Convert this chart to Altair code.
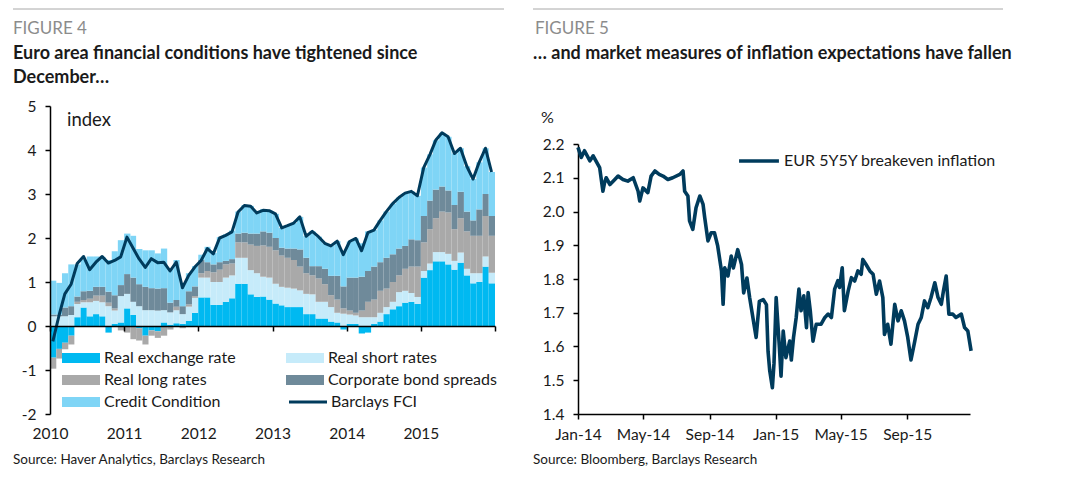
import altair as alt
import pandas as pd

FONT = "Lato"
INK = "#1a1a1a"

# ---------------- Figure 4 data (monthly, Jan 2010 - Dec 2015) ----------------
components = ["Real exchange rate", "Real short rates", "Real long rates",
              "Corporate bond spreads", "Credit Condition"]
comp_colors = ["#00B9F1", "#C6EBFA", "#A9A9A9", "#6F8A9A", "#7FD5F6"]
# legend reads row by row; Vega fills legend columns top to bottom
legend_order = ["Real exchange rate", "Real long rates", "Credit Condition",
                "Real short rates", "Corporate bond spreads"]

real_exchange_rate = [
    -0.72, -0.52, -0.38, -0.22, 0.2, 0.42, 0.22, 0.27, 0.22, -0.15,
    0.05, 0.08, 0.4, 0.25, -0.05, -0.22, -0.1, -0.12, 0.08, 0.03,
    0.06, 0.05, 0.12, 0.3, 0.65, 0.65, 0.48, 0.48, 0.55, 0.63,
    0.96, 0.96, 0.72, 0.66, 0.67, 0.6, 0.51, 0.47, 0.43, 0.43,
    0.43, 0.27, 0.27, 0.17, 0.17, 0.1, 0.08, -0.08, 0.05, 0.05,
    -0.17, -0.15, 0.05, 0.1, 0.27, 0.38, 0.45, 0.53, 0.55, 0.5,
    1.1, 1.27, 1.47, 1.47, 1.4, 1.28, 1.44, 1.15, 0.97, 1.0,
    1.35, 0.97]
real_short_rates = [
    0.22, 0.22, 0.22, 0.25, 0.3, 0.12, 0.32, 0.3, 0.32, 0.45,
    0.3, 0.6, 0.33, 0.3, 0.45, 0.36, 0.36, 0.35, 0.28, 0.28,
    0.3, 0.22, 0.32, 0.34, 0.45, 0.45, 0.52, 0.52, 0.55, 0.52,
    0.59, 0.59, 0.55, 0.54, 0.45, 0.5, 0.45, 0.42, 0.44, 0.42,
    0.38, 0.46, 0.45, 0.38, 0.38, 0.33, 0.22, 0.28, 0.21, 0.19,
    0.2, 0.2, 0.15, 0.2, 0.16, 0.17, 0.32, 0.27, 0.2, 0.16,
    0.15, 0.15, 0.21, 0.21, 0.24, 0.2, 0.23, 0.15, 0.23, 0.2,
    0.23, 0.24]
real_long_rates = [
    -0.25, -0.22, -0.15, -0.2, 0.05, 0.05, 0.08, 0.12, 0.15, 0.08,
    0.05, -0.1, -0.15, -0.3, -0.28, -0.2, -0.12, -0.15, -0.22, -0.08,
    0.08, -0.05, 0.05, 0.04, 0.1, 0.15, 0.22, 0.28, 0.3, 0.27,
    0.35, 0.35, 0.58, 0.62, 0.71, 0.7, 0.76, 0.71, 0.68, 0.65,
    0.54, 0.47, 0.43, 0.53, 0.4, 0.27, 0.3, 0.12, 0.09, 0.06,
    0.15, 0.35, 0.4, 0.5, 0.42, 0.45, 0.38, 0.5, 0.6, 0.69,
    0.65, 0.78, 0.77, 0.92, 0.94, 0.72, 0.78, 0.85, 0.85, 0.85,
    0.92, 0.84]
corporate_bond_spreads = [
    0.04, 0.04, 0.2, 0.2, 0.12, 0.2, 0.18, 0.2, 0.2, 0.25,
    0.3, 0.25, 0.45, 0.55, 0.5, 0.53, 0.5, 0.5, 0.5, 0.22,
    0.15, 0.18, 0.3, 0.22, 0.3, 0.2, 0.18, 0.17, 0.08, 0.1,
    0.2, 0.22, 0.25, 0.28, 0.32, 0.32, 0.28, 0.18, 0.21, 0.26,
    0.39, 0.35, 0.21, 0.28, 0.35, 0.44, 0.54, 0.5, 0.75, 0.8,
    0.77, 0.7, 0.75, 0.65, 0.7, 0.63, 0.61, 0.52, 0.62, 0.6,
    0.6, 0.65, 0.65, 0.57, 0.5, 0.55, 0.6, 0.45, 0.35, 0.6,
    0.5, 0.45]
credit_condition = [
    0.77, 0.72, 0.78, 0.95, 0.73, 0.71, 0.78, 0.69, 0.68, 0.72,
    1.0, 1.02, 0.92, 0.95, 0.8, 0.83, 0.86, 0.8, 0.9, 0.77,
    0.91, 0.52, 0.41, 0.46, 0.12, 0.35, 0.26, 0.57, 0.6, 0.65,
    0.5, 0.63, 0.63, 0.48, 0.51, 0.5, 0.55, 0.45, 0.52, 0.58,
    0.74, 0.49, 0.79, 0.67, 0.58, 0.68, 0.79, 0.8, 0.82, 0.89,
    0.76, 0.9, 0.83, 0.95, 1.05, 1.15, 1.16, 1.2, 1.09, 1.01,
    1.1, 1.05, 1.12, 1.22, 1.22, 1.17, 0.99, 1.03, 0.94, 1.07,
    1.04, 1.0]
barclays_fci = [
    -0.35, 0.25, 0.73, 0.95, 1.42, 1.58, 1.28, 1.45, 1.58, 1.43,
    1.49, 1.57, 2.02, 1.76, 1.53, 1.33, 1.53, 1.44, 1.45, 1.25,
    1.45, 0.87, 1.15, 1.34, 1.49, 1.76, 1.64, 2.0, 2.06, 2.14,
    2.59, 2.74, 2.72, 2.57, 2.63, 2.62, 2.55, 2.23, 2.28, 2.34,
    2.48, 2.04, 2.15, 2.03, 1.88, 1.82, 1.93, 1.62, 1.92, 1.99,
    1.71, 2.12, 2.18, 2.4, 2.6, 2.78, 2.92, 3.02, 3.06, 2.96,
    3.6, 3.9, 4.22, 4.39, 4.3, 3.92, 4.04, 3.63, 3.34, 3.72,
    4.04, 3.5]
year_ticks = [2010, 2011, 2012, 2013, 2014, 2015, 2016]

# ---------------- Figure 5 data (EUR 5Y5Y breakeven, %) ----------------
days_since_jan14 = [
    0, 6, 12, 22, 28, 40, 46, 49, 52, 59,
    68, 74, 83, 92, 102, 111, 114, 120, 129, 135,
    142, 150, 157, 166, 175, 188, 194, 197, 203, 206,
    212, 218, 225, 231, 234, 240, 246, 252, 258, 265,
    268, 271, 277, 283, 287, 295, 302, 306, 312, 317,
    323, 329, 335, 342, 348, 351, 354, 359, 362, 366,
    372, 375, 379, 384, 391, 394, 398, 403, 408, 412,
    417, 422, 425, 429, 434, 440, 449, 456, 462, 468,
    474, 480, 483, 488, 492, 499, 505, 511, 517, 523,
    526, 532, 539, 545, 551, 557, 563, 566, 572, 578,
    585, 591, 597, 603, 609, 615, 622, 628, 634, 640,
    646, 652, 659, 665, 671, 675, 680, 685, 692, 698,
    708, 714, 720, 726]
breakeven = [
    2.19, 2.16, 2.18, 2.15, 2.165, 2.13, 2.06, 2.085, 2.10, 2.08,
    2.095, 2.105, 2.095, 2.09, 2.1, 2.06, 2.031, 2.07, 2.056, 2.105,
    2.12, 2.11, 2.105, 2.095, 2.1, 2.11, 2.12, 2.06, 2.046, 1.972,
    1.947, 2.011, 2.046, 2.021, 1.982, 1.913, 1.937, 1.937, 1.898, 1.824,
    1.725, 1.833, 1.809, 1.868, 1.833, 1.887, 1.843, 1.759, 1.803, 1.745,
    1.686, 1.627, 1.734, 1.739, 1.724, 1.586, 1.53, 1.478, 1.55, 1.745,
    1.596, 1.512, 1.646, 1.567, 1.616, 1.56, 1.626, 1.686, 1.77, 1.706,
    1.75, 1.656, 1.76, 1.706, 1.616, 1.666, 1.666, 1.686, 1.696, 1.686,
    1.77, 1.795, 1.775, 1.833, 1.706, 1.765, 1.804, 1.794, 1.824, 1.814,
    1.858, 1.843, 1.824, 1.814, 1.755, 1.794, 1.745, 1.636, 1.666, 1.607,
    1.725, 1.676, 1.706, 1.676, 1.627, 1.56, 1.616, 1.666, 1.686, 1.735,
    1.715, 1.745, 1.789, 1.745, 1.725, 1.765, 1.809, 1.696, 1.696, 1.686,
    1.696, 1.656, 1.646, 1.587]
right_ticks = [(2014, 1), (2014, 5), (2014, 9), (2015, 1), (2015, 5), (2015, 9)]

# ---------------- tables ----------------
months = pd.date_range("2010-01-01", periods=72, freq="MS")
series = [real_exchange_rate, real_short_rates, real_long_rates,
          corporate_bond_spreads, credit_condition]
rows = []
for i, m in enumerate(months):
    for k, (name, vals) in enumerate(zip(components, series)):
        rows.append({"start": m, "end": m + pd.offsets.MonthBegin(1),
                     "component": name, "order": k, "value": vals[i]})
bars_df = pd.DataFrame(rows)
fci_df = pd.DataFrame({"date": months + pd.Timedelta(days=14),
                       "fci": barclays_fci, "series": "Barclays FCI"})
be_df = pd.DataFrame({"date": pd.Timestamp("2014-01-01") + pd.to_timedelta(days_since_jan14, unit="D"),
                      "value": breakeven, "series": "EUR 5Y5Y breakeven inflation"})


def text(t, x, y, size, weight="normal", color=INK):
    return alt.Chart(pd.DataFrame({"t": [t]})).mark_text(
        align="left", baseline="alphabetic", fontSize=size, fontWeight=weight,
        color=color, font=FONT).encode(x=alt.value(x), y=alt.value(y), text="t:N")


def hrule(x1, x2, y):
    return alt.Chart(pd.DataFrame({"a": [0]})).mark_rule(
        color="#A8A8A8", strokeWidth=1).encode(x=alt.value(x1), x2=alt.value(x2), y=alt.value(y))


axis_common = dict(domainColor="black", domainWidth=1.5, tickColor="black", tickWidth=1.5,
                   tickSize=5, labelFont=FONT, labelFontSize=15.5, labelColor=INK,
                   grid=False, title=None, labelOverlap=False, labelFlush=False)
legend_common = dict(orient="none", title=None, labelFont=FONT, labelFontSize=16,
                     labelColor=INK, labelLimit=400)
SWATCH = "M-3.8,-1H3.8V1H-3.8Z"   # 38 x 10 px at symbolSize 100
STROKE = "M-3.8,0H3.8"

# ---------------- Left chart ----------------
W1, H = 445, 308
x_left = alt.X("start:T",
               scale=alt.Scale(domain=[alt.DateTime(year=2010, month=1, date=1),
                                       alt.DateTime(year=2016, month=1, date=1)]),
               axis=alt.Axis(values=[alt.DateTime(year=y, month=1, date=1) for y in year_ticks],
                             format="%Y", labelExpr="year(datum.value) > 2015 ? '' : datum.label",
                             offset=-88, labelPadding=95, zindex=1, **axis_common))
y_left = alt.Y("y0:Q",
               scale=alt.Scale(domain=[-2, 5], nice=False),
               axis=alt.Axis(values=list(range(-2, 6)), labelPadding=9, zindex=1,
                             labelExpr="datum.value < 0 ? '-' + abs(datum.value) : '' + datum.value",
                             **axis_common))

bars = alt.Chart(bars_df).transform_stack(
    stack="value", as_=["y0", "y1"], groupby=["start"],
    sort=[alt.SortField("order", order="ascending")], offset="zero",
).mark_bar(strokeWidth=0).encode(
    x=x_left, x2="end:T", y=y_left, y2="y1:Q",
    fill=alt.Fill("component:N", scale=alt.Scale(domain=legend_order,
                                                 range=[comp_colors[components.index(c)] for c in legend_order]),
                  legend=alt.Legend(legendX=23, legendY=244, columns=2, columnPadding=50,
                                    rowPadding=6, symbolType=SWATCH, symbolSize=100,
                                    symbolStrokeWidth=0, symbolOpacity=1, labelOffset=15,
                                    **legend_common)),
)
fci_line = alt.Chart(fci_df).mark_line(strokeWidth=3, strokeJoin="round").encode(
    x="date:T", y="fci:Q",
    stroke=alt.Stroke("series:N", scale=alt.Scale(domain=["Barclays FCI"], range=["#003B5C"]),
                      legend=alt.Legend(legendX=250, legendY=288, symbolType=STROKE,
                                        symbolSize=100, symbolStrokeWidth=3, labelOffset=15,
                                        **legend_common)),
)
left = alt.layer(
    bars, fci_line,
    text("index", 17, 20, 18.5),
    hrule(-37, 454, -97),
    text("FIGURE 4", -37, -72, 17, color="#8C8C8C"),
    text("Euro area financial conditions have tightened since", -37, -47, 18, "bold"),
    text("December…", -37, -23, 18, "bold"),
    text("Source: Haver Analytics, Barclays Research", -37, 358, 13.5),
).properties(width=W1, height=H)

# ---------------- Right chart ----------------
W2 = 392
right_line = alt.Chart(be_df).mark_line(strokeWidth=3.6, strokeJoin="round").encode(
    x=alt.X("date:T",
            scale=alt.Scale(domain=[alt.DateTime(year=2014, month=1, date=1),
                                    alt.DateTime(year=2015, month=12, date=26)]),
            axis=alt.Axis(values=[alt.DateTime(year=y, month=m, date=1) for y, m in right_ticks],
                          format="%b-%y", labelPadding=8, **axis_common)),
    y=alt.Y("value:Q", scale=alt.Scale(domain=[1.4, 2.2], range=[H, 38], nice=False, zero=False),
            axis=alt.Axis(values=[1.4, 1.5, 1.6, 1.7, 1.8, 1.9, 2.0, 2.1, 2.2], format=".1f",
                          labelPadding=9, **axis_common)),
    stroke=alt.Stroke("series:N",
                      scale=alt.Scale(domain=["EUR 5Y5Y breakeven inflation"], range=["#003B5C"]),
                      legend=alt.Legend(legendX=173, legendY=47, symbolType=STROKE,
                                        symbolSize=110, symbolStrokeWidth=3.5, labelOffset=17,
                                        **legend_common)),
)
right = alt.layer(
    right_line,
    text("%", -37, 17, 16),
    hrule(-45, 425, -97),
    text("FIGURE 5", -43, -72, 17, color="#8C8C8C"),
    text("… and market measures of inflation expectations have fallen", -45, -47, 18, "bold"),
    text("Source: Bloomberg, Barclays Research", -45, 358, 13.5),
).properties(width=W2, height=H)

chart = alt.hconcat(left, right, spacing=27).resolve_scale(
    stroke="independent", fill="independent"
).properties(
    padding={"left": 12, "top": 8, "right": 0, "bottom": 0},
    background="white",
).configure_view(stroke=None)

chart.save("out.html", embed_options={"renderer": "svg", "actions": False})
